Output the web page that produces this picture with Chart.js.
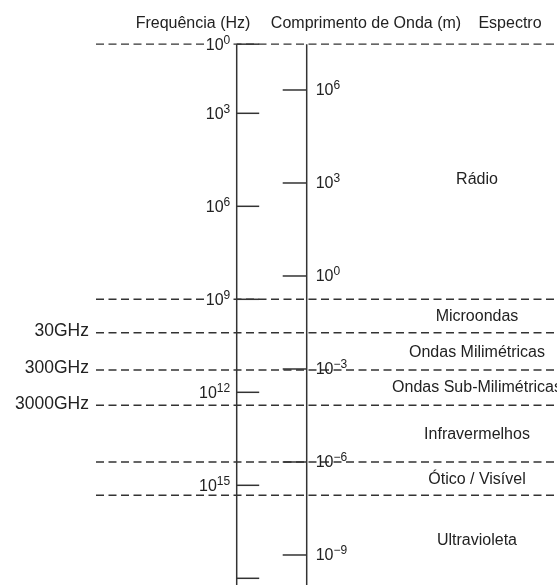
<!DOCTYPE html>
<html>
<head>
<meta charset="utf-8">
<script src="https://cdn.jsdelivr.net/npm/chart.js@4.4.1/dist/chart.umd.min.js"></script>
<style>
  html, body { margin: 0; padding: 0; background: #fff; }
  #wrap { position: relative; width: 557px; height: 585px; }
</style>
</head>
<body>
<div id="wrap"><canvas id="spectrumChart"></canvas></div>
<script>
// Frequency axis ticks: position (log10 Hz as drawn) and exponent label
const freqTickPos = [0.77, 3, 6, 9, 12, 15, 18];
const freqTickExp = ['0', '3', '6', '9', '12', '15', ''];
// Wavelength axis ticks (log10 m)
const waveTickExp = [6, 3, 0, -3, -6, -9];
// Band boundaries (log10 Hz as placed on the drawing) and their left labels
const bandEdges = [0.77, 9, 10.08, 11.28, 12.42, 14.25, 15.32];
const edgeLabels = ['', '', '30GHz', '300GHz', '3000GHz', '', ''];
const bandNames = ['Rádio', 'Microondas', 'Ondas Milimétricas', 'Ondas Sub-Milimétricas',
    'Infravermelhos', 'Ótico / Visível', 'Ultravioleta'];
// where each band name sits (log10 Hz)
const bandLabelPos = [5.09, 9.51, 10.67, 11.8, 13.31, 14.77, 16.73];
const headers = ['Frequência (Hz)', 'Comprimento de Onda (m)', 'Espectro'];

// layout
const FREQ_X = 236.7, WAVE_X = 306.7;
const FREQ_TICK = 22.5, WAVE_TICK = 24;
const DASH_FROM = 96, DASH_TO = 557;
const BAND_X = 477;
const HEADER_X = [193, 366, 510], HEADER_Y = 28;
const FONT = '"Liberation Sans", Arial, sans-serif';
const INK = '#222222';
const LINE = '#333333';

const datasets = [];

// vertical axes
[FREQ_X, WAVE_X].forEach(function(x) {
    datasets.push({
        data: [{x: x, y: bandEdges[0]}, {x: x, y: 19}],
        yAxisID: 'yf', borderColor: LINE, borderWidth: 1.5
    });
});

// frequency ticks (to the right of the axis)
freqTickPos.forEach(function(v) {
    datasets.push({
        data: [{x: FREQ_X, y: v}, {x: FREQ_X + FREQ_TICK, y: v}],
        yAxisID: 'yf', borderColor: LINE, borderWidth: 1.5
    });
});

// wavelength ticks (to the left of the axis)
waveTickExp.forEach(function(v) {
    datasets.push({
        data: [{x: WAVE_X - WAVE_TICK, y: v}, {x: WAVE_X, y: v}],
        yAxisID: 'yw', borderColor: LINE, borderWidth: 1.5
    });
});

// dashed band boundaries
bandEdges.forEach(function(v) {
    datasets.push({
        data: [{x: DASH_FROM, y: v}, {x: DASH_TO, y: v}],
        yAxisID: 'yf', borderColor: LINE, borderWidth: 1.4, borderDash: [8, 4.5]
    });
});

function drawPower(ctx, x, baseline, exp, align, bg) {
    ctx.font = '16px ' + FONT;
    const wBase = ctx.measureText('10').width;
    ctx.font = '12px ' + FONT;
    const wExp = ctx.measureText(exp).width;
    const left = align === 'right' ? x - wBase - wExp : x;
    if (bg) {
        ctx.fillStyle = '#fff';
        ctx.fillRect(left - 1, baseline - 17, wBase + wExp + 2, 19);
    }
    ctx.fillStyle = INK;
    ctx.textAlign = 'left';
    ctx.textBaseline = 'alphabetic';
    ctx.font = '16px ' + FONT;
    ctx.fillText('10', left, baseline);
    ctx.font = '12px ' + FONT;
    ctx.fillText(exp, left + wBase, baseline - 5.5);
}

const labelPlugin = {
    id: 'spectrumLabels',
    afterDatasetsDraw(chart) {
        const ctx = chart.ctx;
        const yf = chart.scales.yf, yw = chart.scales.yw;
        ctx.save();

        // header
        ctx.fillStyle = INK;
        ctx.font = '16px ' + FONT;
        ctx.textAlign = 'center';
        ctx.textBaseline = 'alphabetic';
        headers.forEach(function(h, i) {
            ctx.fillText(h, HEADER_X[i], HEADER_Y);
        });

        // frequency labels
        freqTickPos.forEach(function(v, i) {
            if (!freqTickExp[i]) return;
            drawPower(ctx, FREQ_X - 6.5, yf.getPixelForValue(v) + 5.5, freqTickExp[i], 'right', true);
        });

        // wavelength labels
        waveTickExp.forEach(function(v) {
            const exp = v < 0 ? '\u2212' + Math.abs(v) : String(v);
            drawPower(ctx, WAVE_X + 9, yw.getPixelForValue(v) + 5, exp, 'left', false);
        });

        // GHz labels on the left
        ctx.fillStyle = INK;
        ctx.font = '17.5px ' + FONT;
        ctx.textAlign = 'right';
        edgeLabels.forEach(function(t, i) {
            if (!t) return;
            ctx.fillText(t, 89, yf.getPixelForValue(bandEdges[i]) + 3.3);
        });

        // band names
        ctx.font = '16px ' + FONT;
        ctx.textAlign = 'center';
        bandNames.forEach(function(name, i) {
            ctx.fillText(name, BAND_X, yf.getPixelForValue(bandLabelPos[i]) + 5.7);
        });

        ctx.restore();
    }
};

const spectrumCtx = document.getElementById('spectrumChart');
new Chart(spectrumCtx, {
    type: 'scatter',
    data: { datasets: datasets },
    options: {
        responsive: true,
        maintainAspectRatio: false,
        animation: false,
        showLine: true,
        elements: { point: { radius: 0, hoverRadius: 0 } },
        layout: { padding: 0 },
        plugins: {
            legend: { display: false },
            tooltip: { enabled: false }
        },
        scales: {
            x: { type: 'linear', min: 0, max: 557, display: false },
            yf: { type: 'linear', reverse: true, min: -0.655, max: 18.216, display: false },
            yw: { type: 'linear', min: -9.968, max: 8.903, display: false }
        }
    },
    plugins: [labelPlugin]
});
</script>
</body>
</html>
